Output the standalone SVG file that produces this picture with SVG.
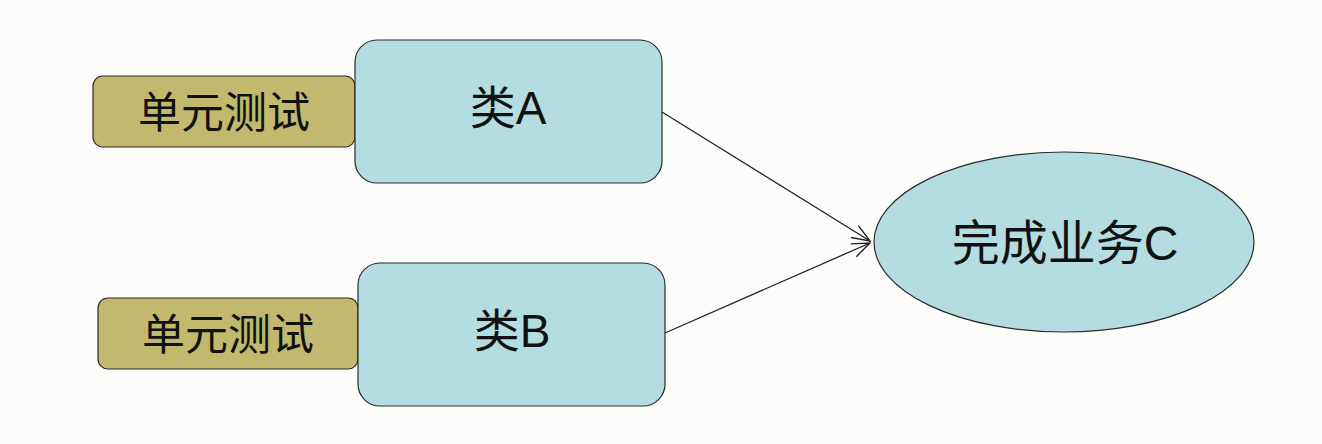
<svg xmlns="http://www.w3.org/2000/svg" width="1322" height="444" viewBox="0 0 1322 444">
<style>
.bg{fill:#fcfcfb}
.test{fill:#c2b96e;stroke:#2a2a2a;stroke-width:1.2}
.cls{fill:#b3dde0;stroke:#2a2a2a;stroke-width:1.2}
.t{font-family:"Liberation Sans","Noto Sans CJK SC",sans-serif;fill:#111;text-anchor:middle;dominant-baseline:central}
.conn{stroke:#222;stroke-width:1.3;fill:none}
</style>
<defs>
<marker id="arr" viewBox="0 0 20 20" refX="19" refY="10" markerWidth="20" markerHeight="20" markerUnits="userSpaceOnUse" orient="auto">
<path d="M1,3 L19,10 L1,17" fill="none" stroke="#222" stroke-width="1.4"/>
</marker>
</defs>
<rect class="bg" width="1322" height="444"/>
<g id="testA">
<rect class="test" x="93" y="76" width="262" height="71" rx="10"/>
<text class="t" x="224" y="113" font-size="43">单元测试</text>
</g>
<g id="classA">
<rect class="cls" x="355" y="40" width="307" height="143" rx="22"/>
<text class="t" x="508" y="108" font-size="46">类A</text>
</g>
<g id="testB">
<rect class="test" x="98" y="298" width="260" height="71" rx="10"/>
<text class="t" x="228" y="335" font-size="43">单元测试</text>
</g>
<g id="classB">
<rect class="cls" x="358" y="263" width="307" height="143" rx="22"/>
<text class="t" x="512" y="331" font-size="46">类B</text>
</g>
<g id="bizC">
<ellipse class="cls" cx="1064" cy="242" rx="190" ry="90"/>
<text class="t" x="1065" y="243" font-size="48">完成业务C</text>
</g>
<g id="connectors">
<line class="conn" x1="662" y1="112" x2="870" y2="241" marker-end="url(#arr)"/>
<line class="conn" x1="665" y1="333" x2="870" y2="243" marker-end="url(#arr)"/>
</g>
</svg>
